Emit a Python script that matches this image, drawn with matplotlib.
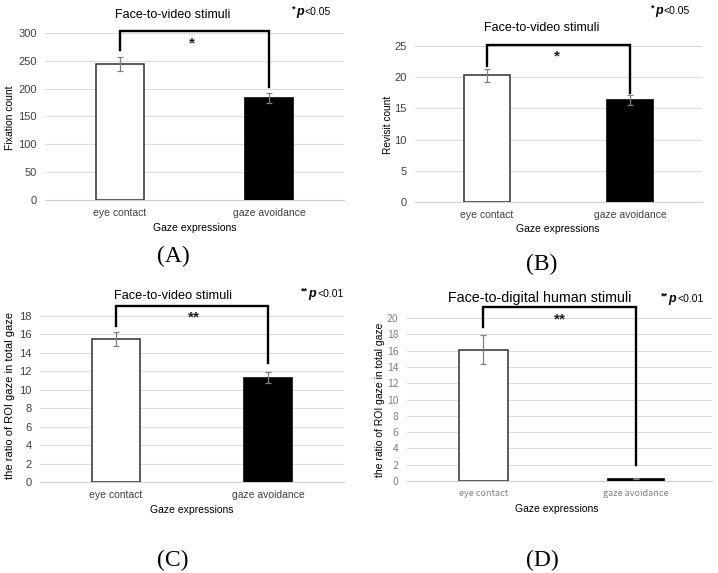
import matplotlib.pyplot as plt

# data
categories = ["eye contact", "gaze avoidance"]

fix_mean = [244, 184]
fix_err = [12, 9]

rev_mean = [20.3, 16.3]
rev_err = [1.0, 0.8]

roi_video_mean = [15.5, 11.3]
roi_video_err = [0.8, 0.6]

roi_dh_mean = [16.1, 0.3]
roi_dh_err = [1.8, 0.05]

W, H = 718, 573
plt.rcParams['font.family'] = ['Liberation Sans', 'DejaVu Sans']

fig = plt.figure(figsize=(W / 100, H / 100), dpi=100, facecolor='w')


def px(x, y):
    return x / W, 1 - y / H


def make_ax(l, t, r, b):
    x0, y1 = px(l, t)
    x1, y0 = px(r, b)
    return fig.add_axes([x0, y0, x1 - x0, y1 - y0])


def panel(ax, means, errs, ymax, step, bracket, star, stars, widths=(0.32, 0.32),
          tickcolor='#404040', tickfont=None, xsize=7.5, ysize=8):
    ax.bar([0, 1], means, width=list(widths), color=['white', 'black'],
           edgecolor=['#404040', 'black'], linewidth=1.2, zorder=3)
    ax.errorbar([0, 1], means, yerr=errs, fmt='none', ecolor='#808080',
                elinewidth=0.9, capsize=2.5, capthick=0.9, zorder=4)
    ax.set_xlim(-0.5, 1.5)
    ax.set_ylim(0, ymax)
    ax.set_yticks([step * i for i in range(int(round(ymax / step)) + 1)])
    ax.set_xticks([0, 1])
    ax.set_xticklabels(categories)
    ax.grid(axis='y', color='#dcdcdc', linewidth=0.8, zorder=0)
    for s in ['top', 'left', 'right']:
        ax.spines[s].set_visible(False)
    ax.spines['bottom'].set_color('#d0d0d0')
    ax.tick_params(length=0, colors=tickcolor, pad=6)
    ax.tick_params(axis='x', labelsize=xsize)
    ax.tick_params(axis='y', labelsize=ysize)
    if tickfont:
        for lb in ax.get_xticklabels() + ax.get_yticklabels():
            lb.set_family(tickfont)
    top, lh, rh = bracket
    ax.plot([0, 0, 1, 1], [lh, top, top, rh], color='black', lw=1.7,
            clip_on=False, zorder=5, solid_joinstyle='miter')
    ax.text(star[0], star[1], stars, ha='center', va='center', fontsize=11,
            fontweight='bold', color='#202020')


def ptext(x, y, s, **kw):
    fig.text(*px(x, y), s, **kw)


def pval(x, y, nstar, p):
    # superscript star(s), bold italic p, then the threshold
    ptext(x, y - 3, '*' * nstar, fontsize=6.5, fontweight='bold',
          ha='left', va='baseline')
    xp = x + 3.5 * nstar + 0.5
    ptext(xp, y, 'p', fontsize=9, fontweight='bold', fontstyle='italic',
          ha='left', va='baseline')
    ptext(xp + 8.5, y, '<' + p, fontsize=7.5, ha='left', va='baseline')


# (A)
axA = make_ax(45, 33, 344, 200)
panel(axA, fix_mean, fix_err, 300, 50, (303, 270, 203), (0.48, 281), '*')
ptext(173, 15, 'Face-to-video stimuli', fontsize=9, ha='center', va='center')
pval(292, 15, 1, '0.05')
ptext(10, 118, 'Fixation count', fontsize=7.5, rotation=90, ha='center', va='center')
ptext(195, 228, 'Gaze expressions', fontsize=7.5, ha='center', va='center')
ptext(173, 256, '(A)', fontsize=17, family='Liberation Serif', ha='center', va='center')

# (B)
axB = make_ax(415, 46, 702, 202)
panel(axB, rev_mean, rev_err, 25, 5, (25.2, 21.8, 17.5), (0.49, 23.4), '*')
ptext(542, 28, 'Face-to-video stimuli', fontsize=9, ha='center', va='center')
pval(651, 14, 1, '0.05')
ptext(388, 125, 'Revisit count', fontsize=7.3, rotation=90, ha='center', va='center')
ptext(558, 229, 'Gaze expressions', fontsize=7.5, ha='center', va='center')
ptext(542, 264, '(B)', fontsize=17, family='Liberation Serif', ha='center', va='center')

# (C)
axC = make_ax(40, 316, 344, 482)
panel(axC, roi_video_mean, roi_video_err, 18, 2, (19.1, 16.9, 12.85),
      (0.51, 17.8), '**')
ptext(173, 296, 'Face-to-video stimuli', fontsize=9.2, ha='center', va='center')
pval(301, 297, 2, '0.01')
ptext(10, 395, 'the ratio of ROI gaze in total gaze', fontsize=8, rotation=90,
      ha='center', va='center')
ptext(192, 510, 'Gaze expressions', fontsize=7.5, ha='center', va='center')
ptext(173, 560, '(C)', fontsize=17, family='Liberation Serif', ha='center', va='center')

# (D)
axD = make_ax(407, 318, 712, 481)
panel(axD, roi_dh_mean, roi_dh_err, 20, 2, (21.3, 18.9, 2.0), (0.5, 19.8), '**',
      widths=(0.32, 0.37), tickcolor='#808080', tickfont='Noto Sans CJK KR',
      xsize=6.5, ysize=7.5)
ptext(540, 298, 'Face-to-digital human stimuli', fontsize=10.3, ha='center', va='center')
pval(661, 302, 2, '0.01')
ptext(380, 400, 'the ratio of ROI gaze in total gaze', fontsize=7.5, rotation=90,
      ha='center', va='center')
ptext(557, 509, 'Gaze expressions', fontsize=7.5, ha='center', va='center')
ptext(542, 560, '(D)', fontsize=17, family='Liberation Serif', ha='center', va='center')

fig.savefig('out.png', dpi=100, facecolor='w')
